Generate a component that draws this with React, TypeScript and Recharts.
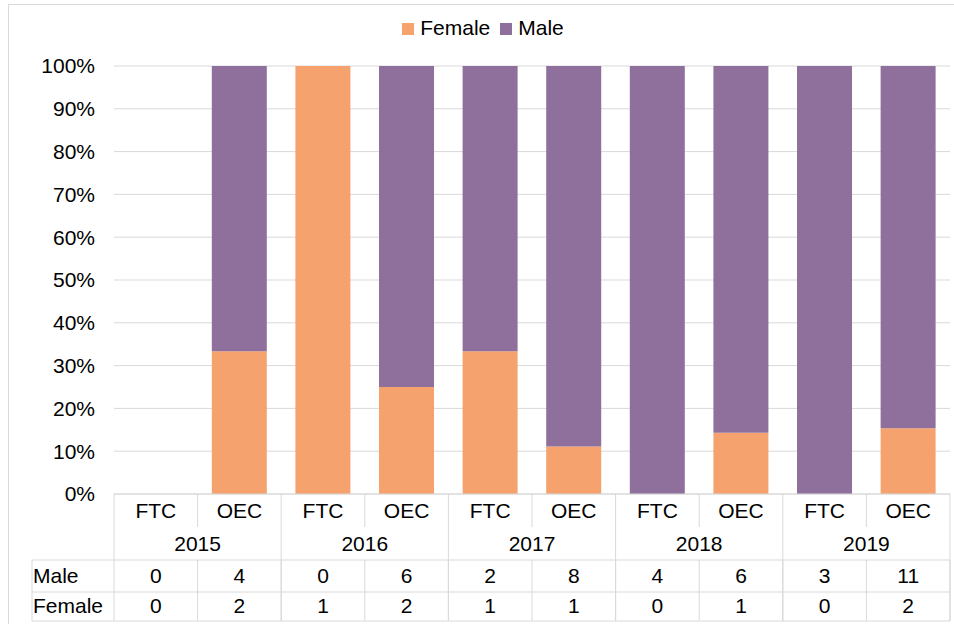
import React from 'react';
import { BarChart, Bar, XAxis, YAxis, CartesianGrid, Legend } from 'recharts';

const years = ['2015', '2016', '2017', '2018', '2019'];
const types = ['FTC', 'OEC'];
const maleCounts = [0, 4, 0, 6, 2, 8, 4, 6, 3, 11];
const femaleCounts = [0, 2, 1, 2, 1, 1, 0, 1, 0, 2];
const yTicks = [0, 0.1, 0.2, 0.3, 0.4, 0.5, 0.6, 0.7, 0.8, 0.9, 1];

const data = maleCounts.map((m, i) => ({
  key: `${years[Math.floor(i / 2)]}-${types[i % 2]}`,
  type: types[i % 2],
  year: years[Math.floor(i / 2)],
  Female: femaleCounts[i],
  Male: m,
}));

const W = 954;
const H = 624;
const PLOT_LEFT = 114;
const PLOT_RIGHT = 950;
const PLOT_TOP = 66;
const PLOT_BOTTOM = 494;
const BAND = (PLOT_RIGHT - PLOT_LEFT) / data.length;
const FONT = '"Liberation Sans", Arial, sans-serif';
const FS = 21;
const LINE = '#d9d9d9';

// the data table under the chart is drawn column by column from the x-axis ticks
function TableTick(props: any) {
  const { x, y, payload } = props;
  const i = payload.index;
  const row = data[i];
  const l = x - BAND / 2;
  const r = x + BAND / 2;
  const yearEnd = i % 2 === 1;
  return (
    <g fontFamily={FONT} fontSize={FS} fill="#000">
      <text x={x} y={y + 24} textAnchor="middle">{row.type}</text>
      {i % 2 === 0 && (
        <text x={r} y={y + 57} textAnchor="middle">{row.year}</text>
      )}
      <text x={x} y={y + 89} textAnchor="middle">{row.Male}</text>
      <text x={x} y={y + 119} textAnchor="middle">{row.Female}</text>
      <line x1={r} x2={r} y1={y} y2={yearEnd ? y + 127 : y + 33} stroke={LINE} />
      <line x1={r} x2={r} y1={y + 66} y2={y + 127} stroke={LINE} />
      <line x1={l} x2={r} y1={y + 66} y2={y + 66} stroke={LINE} />
      <line x1={l} x2={r} y1={y + 98} y2={y + 98} stroke={LINE} />
      <line x1={l} x2={r} y1={y + 127} y2={y + 127} stroke={LINE} />
      {i === 0 && (
        <g>
          <line x1={l} x2={l} y1={y} y2={y + 127} stroke={LINE} />
          <line x1={32} x2={l} y1={y + 66} y2={y + 66} stroke={LINE} />
          <line x1={32} x2={l} y1={y + 98} y2={y + 98} stroke={LINE} />
          <line x1={32} x2={l} y1={y + 127} y2={y + 127} stroke={LINE} />
          <line x1={32} x2={32} y1={y + 66} y2={y + 127} stroke={LINE} />
          <text x={33} y={y + 89} textAnchor="start">Male</text>
          <text x={33} y={y + 119} textAnchor="start">Female</text>
        </g>
      )}
    </g>
  );
}

export default function App() {
  return (
    <div style={{ position: 'absolute', left: 0, top: 0, width: W, height: H, background: '#fff' }}>
      <div
        style={{
          position: 'absolute',
          left: 8,
          top: 4,
          width: W,
          height: H,
          borderLeft: `1px solid ${LINE}`,
          borderTop: `1px solid ${LINE}`,
        }}
      />
      <BarChart
        width={W}
        height={H}
        data={data}
        stackOffset="expand"
        barCategoryGap="17%"
        margin={{ top: PLOT_TOP, right: W - PLOT_RIGHT, bottom: 0, left: 34 }}
        style={{ position: 'absolute', left: 0, top: 0 }}
      >
        <CartesianGrid vertical={false} stroke={LINE} />
        <XAxis
          dataKey="key"
          interval={0}
          height={H - PLOT_BOTTOM}
          tickSize={0}
          tickMargin={0}
          axisLine={{ stroke: LINE }}
          tick={<TableTick />}
        />
        <YAxis
          width={PLOT_LEFT - 34}
          domain={[0, 1]}
          ticks={yTicks}
          tickFormatter={(v) => `${Math.round(v * 100)}%`}
          axisLine={false}
          tickLine={false}
          tickSize={0}
          tickMargin={19}
          tick={{ fill: '#000', fontSize: FS, fontFamily: FONT }}
        />
        <Legend
          verticalAlign="middle"
          align="center"
          iconType="square"
          iconSize={12}
          wrapperStyle={{ top: 16, left: 24, width: 928, fontFamily: FONT, fontSize: FS }}
          formatter={(value) => <span style={{ color: '#000', marginLeft: 2 }}>{value}</span>}
        />
        <Bar dataKey="Female" stackId="a" fill="#F5A26E" isAnimationActive={false} />
        <Bar dataKey="Male" stackId="a" fill="#8F709C" isAnimationActive={false} />
      </BarChart>
    </div>
  );
}
